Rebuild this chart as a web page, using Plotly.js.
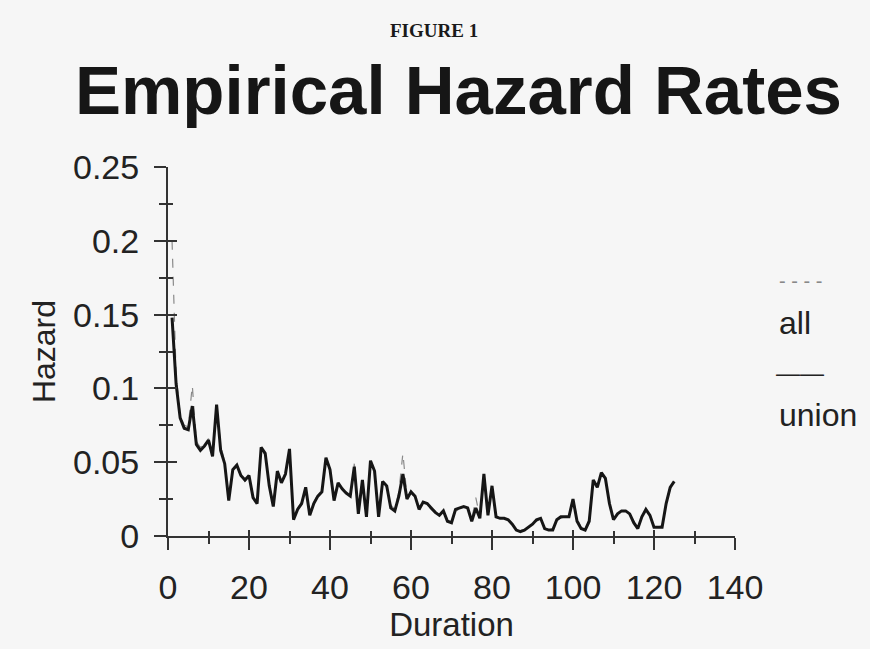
<!DOCTYPE html>
<html>
<head>
<meta charset="utf-8">
<script src="https://cdn.plot.ly/plotly-3.0.1.min.js"></script>
<style>html,body{margin:0;padding:0;background:#f6f6f6;}</style>
</head>
<body>
<div id="chart" style="width:870px;height:649px;"></div>
<script>
// Duration (periods)
const duration = [];
for (let d = 1; d <= 125; d++) duration.push(d);

// Hazard rate, all spells (dashed)
const hazardAll = [
 0.200,0.110,0.082,0.075,0.074,0.102,0.064,0.060,0.062,0.066,
 0.056,0.088,0.062,0.050,0.027,0.044,0.047,0.042,0.037,0.040,
 0.028,0.024,0.058,0.055,0.035,0.022,0.043,0.037,0.041,0.057,
 0.013,0.019,0.023,0.032,0.016,0.023,0.028,0.031,0.051,0.044,
 0.026,0.035,0.031,0.030,0.028,0.049,0.017,0.037,0.015,0.050,
 0.043,0.015,0.036,0.033,0.021,0.018,0.030,0.056,0.027,0.029,
 0.026,0.019,0.022,0.021,0.018,0.016,0.015,0.017,0.011,0.010,
 0.017,0.018,0.020,0.019,0.011,0.026,0.013,0.040,0.015,0.032,
 0.014,0.012,0.012,0.011,0.008,0.005,0.004,0.004,0.006,0.008,
 0.010,0.012,0.006,0.004,0.005,0.011,0.012,0.013,0.014,0.026,
 0.012,0.006,0.005,0.011,0.037,0.034,0.042,0.038,0.023,0.012,
 0.015,0.017,0.016,0.015,0.010,0.006,0.013,0.017,0.014,0.007,
 0.006,0.007,0.021,0.032,0.036
];

// Hazard rate, union spells (solid)
const hazardUnion = [
 0.148,0.103,0.080,0.073,0.072,0.088,0.062,0.058,0.061,0.065,
 0.054,0.089,0.058,0.049,0.024,0.045,0.048,0.041,0.038,0.041,
 0.026,0.022,0.060,0.056,0.034,0.020,0.044,0.036,0.042,0.059,
 0.011,0.018,0.022,0.033,0.014,0.022,0.027,0.030,0.053,0.045,
 0.024,0.036,0.032,0.029,0.027,0.047,0.015,0.038,0.013,0.051,
 0.044,0.013,0.037,0.034,0.019,0.017,0.027,0.042,0.025,0.030,
 0.027,0.018,0.023,0.022,0.019,0.016,0.014,0.017,0.010,0.009,
 0.018,0.019,0.020,0.019,0.010,0.019,0.012,0.042,0.014,0.034,
 0.013,0.012,0.012,0.011,0.008,0.004,0.003,0.004,0.006,0.008,
 0.011,0.012,0.005,0.004,0.004,0.011,0.013,0.013,0.013,0.025,
 0.010,0.005,0.004,0.010,0.038,0.033,0.043,0.039,0.022,0.011,
 0.015,0.017,0.017,0.015,0.009,0.005,0.013,0.018,0.014,0.006,
 0.006,0.006,0.022,0.033,0.037
];

const xTickVals = [0,20,40,60,80,100,120,140];
const yTickVals = [0,0.05,0.1,0.15,0.2,0.25];
const seriesNames = ['all','union'];

const FONT = 'Liberation Sans, Arial, Helvetica, sans-serif';
const AX = '#333333';

const traces = [
  {x: duration, y: hazardAll, name: seriesNames[0], type: 'scatter', mode: 'lines',
   xaxis: 'x', yaxis: 'y',
   line: {color: '#8a8a8a', width: 1.2, dash: 'dash'}, showlegend: false},
  {x: duration, y: hazardUnion, name: seriesNames[1], type: 'scatter', mode: 'lines',
   xaxis: 'x2', yaxis: 'y2',
   line: {color: '#161616', width: 3}, showlegend: false}
];

const layout = {
  width: 870, height: 649,
  margin: {l: 168, r: 135, t: 167, b: 113},
  paper_bgcolor: '#f6f6f6', plot_bgcolor: 'rgba(0,0,0,0)',
  font: {family: FONT, color: '#222'},
  showlegend: false,
  title: {text: '<b>Empirical Hazard Rates</b>', font: {family: FONT, size: 69, color: '#161616'},
          xref: 'container', yref: 'container', x: 0.527, y: 0.862, xanchor: 'center', yanchor: 'middle'},
  xaxis: {range: [0, 140], tickvals: xTickVals, ticks: 'outside', ticklen: 12, tickwidth: 2, tickcolor: AX,
          showline: true, linecolor: AX, linewidth: 2, showgrid: false, zeroline: false,
          tickfont: {family: FONT, size: 34, color: '#222'}, ticklabelstandoff: 8,
          minor: {dtick: 10, tick0: 0, ticks: 'outside', ticklen: 6, tickwidth: 2, tickcolor: AX, showgrid: false},
          title: {text: 'Duration', font: {family: FONT, size: 33, color: '#222'}, standoff: 4}},
  yaxis: {range: [0, 0.25], tickvals: yTickVals, ticks: 'outside', ticklen: 12, tickwidth: 2, tickcolor: AX,
          showline: true, linecolor: AX, linewidth: 2, showgrid: false, zeroline: false,
          tickfont: {family: FONT, size: 34, color: '#222'}, ticklabelstandoff: 8,
          minor: {dtick: 0.025, tick0: 0, ticks: 'outside', ticklen: 7, tickwidth: 2, tickcolor: AX, showgrid: false},
          title: {text: 'Hazard', font: {family: FONT, size: 32, color: '#222'}, standoff: 8}},
  xaxis2: {range: [0, 140], overlaying: 'x', anchor: 'y2', side: 'bottom', tickvals: xTickVals,
           ticks: 'inside', ticklen: 6, tickwidth: 2, tickcolor: AX, showticklabels: false,
           showline: false, showgrid: false, zeroline: false,
           minor: {dtick: 10, tick0: 0, ticks: 'inside', ticklen: 5, tickwidth: 2, tickcolor: AX, showgrid: false}},
  yaxis2: {range: [0, 0.25], overlaying: 'y', anchor: 'x2', side: 'left', tickvals: yTickVals,
           ticks: 'inside', ticklen: 9, tickwidth: 2, tickcolor: AX, showticklabels: false,
           showline: false, showgrid: false, zeroline: false,
           minor: {dtick: 0.025, tick0: 0, ticks: 'inside', ticklen: 5, tickwidth: 2, tickcolor: AX, showgrid: false}},
  annotations: [
    {text: '<b>FIGURE 1</b>', xref: 'paper', yref: 'paper', x: 0.469, y: 1.369, xanchor: 'center', yanchor: 'middle',
     showarrow: false, font: {family: 'Liberation Serif, Times New Roman, serif', size: 19, color: '#1a1a1a'}},
    {text: '- - - -', xref: 'paper', yref: 'paper', x: 1.074, y: 0.69, xanchor: 'left', yanchor: 'middle',
     showarrow: false, font: {family: FONT, size: 20, color: '#888'}},
    {text: seriesNames[0], xref: 'paper', yref: 'paper', x: 1.074, y: 0.577, xanchor: 'left', yanchor: 'middle',
     showarrow: false, font: {family: FONT, size: 32, color: '#222'}},
    {text: '——', xref: 'paper', yref: 'paper', x: 1.069, y: 0.444, xanchor: 'left', yanchor: 'middle',
     showarrow: false, font: {family: FONT, size: 24, color: '#222'}},
    {text: seriesNames[1], xref: 'paper', yref: 'paper', x: 1.074, y: 0.328, xanchor: 'left', yanchor: 'middle',
     showarrow: false, font: {family: FONT, size: 32, color: '#222'}}
  ]
};

Plotly.newPlot('chart', traces, layout, {displayModeBar: false, staticPlot: true});
</script>
</body>
</html>
